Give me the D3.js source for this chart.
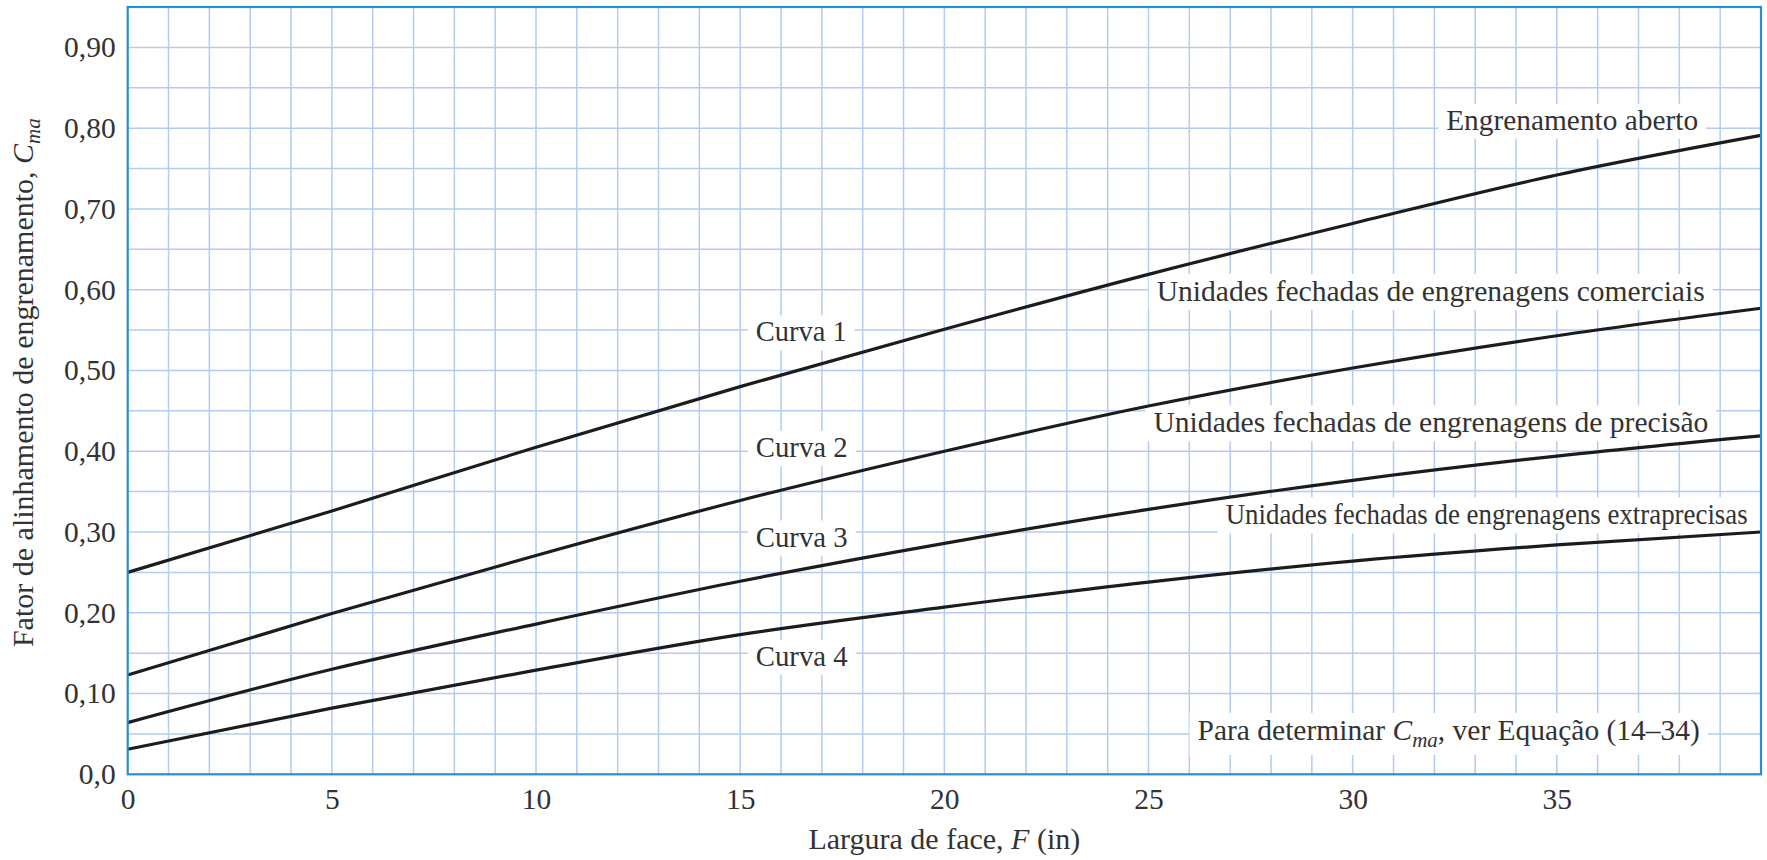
<!DOCTYPE html>
<html>
<head>
<meta charset="utf-8">
<script src="https://cdn.jsdelivr.net/npm/d3@7"></script>
<style>
  html, body { margin: 0; padding: 0; background: #fff; }
  svg { display: block; }
  text { font-family: "Liberation Serif", "Times New Roman", serif; fill: #333; }
</style>
</head>
<body>
<svg id="chart" width="1767" height="860"></svg>
<script>
// ---- data ----
const faceWidth = [0, 5, 10, 15, 20, 25, 30, 35, 40];            // F (in)
const curva1 = [0.250, 0.326, 0.405, 0.480, 0.551, 0.619, 0.682, 0.742, 0.791]; // Engrenamento aberto
const curva2 = [0.123, 0.199, 0.271, 0.339, 0.400, 0.456, 0.503, 0.543, 0.577]; // comerciais
const curva3 = [0.064, 0.130, 0.186, 0.239, 0.286, 0.328, 0.364, 0.394, 0.419]; // precisão
const curva4 = [0.031, 0.082, 0.129, 0.173, 0.207, 0.238, 0.264, 0.284, 0.300]; // extraprecisas
const xTicks = [0, 5, 10, 15, 20, 25, 30, 35];
const yTicks = [0, 0.1, 0.2, 0.3, 0.4, 0.5, 0.6, 0.7, 0.8, 0.9];
const yTickLabels = ["0,0", "0,10", "0,20", "0,30", "0,40", "0,50", "0,60", "0,70", "0,80", "0,90"];
const xTitle = "Largura de face, ";
const yTitle = "Fator de alinhamento de engrenamento, ";

// ---- layout ----
const W = 1767, H = 860;
const margin = { left: 127.7, right: 6, top: 7, bottom: 85.7 };
const svg = d3.select("#chart");

const x = d3.scaleLinear().domain([0, 40]).range([margin.left, W - margin.right]);
const y = d3.scaleLinear().domain([0, 0.95]).range([H - margin.bottom, margin.top]);

// grid
const grid = svg.append("g");
grid.selectAll("line.v").data(d3.range(1, 40, 1)).join("line")
  .attr("x1", d => x(d)).attr("x2", d => x(d))
  .attr("y1", y(0)).attr("y2", y(0.95))
  .attr("stroke", "#b3ccef").attr("stroke-width", 1.5);
grid.selectAll("line.h").data(d3.range(1, 19, 1).map(i => i * 0.05)).join("line")
  .attr("x1", x(0)).attr("x2", x(40))
  .attr("y1", d => y(d)).attr("y2", d => y(d))
  .attr("stroke", "#b3ccef").attr("stroke-width", 1.5);

const rectG = svg.append("g");
const curveG = svg.append("g");
const textG = svg.append("g");

// curves
const series = [curva1, curva2, curva3, curva4];
const line = d3.line().x((d, i) => x(faceWidth[i])).y(d => y(d)).curve(d3.curveMonotoneX);
curveG.selectAll("path").data(series).join("path")
  .attr("d", d => line(d))
  .attr("fill", "none").attr("stroke", "#1c1c1c").attr("stroke-width", 3.2);

// annotations (placed in data units)
const ann = [
  { t: "Engrenamento aberto", u: 32.29, v: 0.798, len: 252, fs: 28.5 },
  { t: "Unidades fechadas de engrenagens comerciais", u: 25.20, v: 0.586, len: 548, fs: 29.5 },
  { t: "Unidades fechadas de engrenagens de precisão", u: 25.12, v: 0.4235, len: 555, fs: 29.5 },
  { t: "Unidades fechadas de engrenagens extraprecisas", u: 26.89, v: 0.3095, len: 522, fs: 29.5 },
  { t: "Curva 1", u: 15.38, v: 0.536, len: 91, fs: 28.5 },
  { t: "Curva 2", u: 15.38, v: 0.3927, len: 92, fs: 28.5 },
  { t: "Curva 3", u: 15.38, v: 0.282, len: 92, fs: 28.5 },
  { t: "Curva 4", u: 15.38, v: 0.1345, len: 92, fs: 28.5 }
];
ann.forEach(a => {
  const tx = textG.append("text")
    .attr("x", x(a.u)).attr("y", y(a.v))
    .attr("font-size", a.fs)
    .attr("textLength", a.len).attr("lengthAdjust", "spacingAndGlyphs")
    .text(a.t);
  const b = tx.node().getBBox();
  rectG.append("rect").attr("fill", "#fff")
    .attr("x", b.x - 8).attr("y", b.y - 1).attr("width", b.width + 16).attr("height", b.height + 4);
});

// "Para determinar C_ma, ver Equação (14–34)"
{
  const tx = textG.append("text").attr("x", x(26.2)).attr("y", y(0.0425)).attr("font-size", 29.5);
  tx.append("tspan").text("Para determinar ");
  tx.append("tspan").attr("font-style", "italic").text("C");
  tx.append("tspan").attr("font-style", "italic").attr("font-size", 21).attr("dy", 7).text("ma");
  tx.append("tspan").attr("dy", -7).text(", ver Equação (14–34)");
  const b = tx.node().getBBox();
  rectG.append("rect").attr("fill", "#fff")
    .attr("x", b.x - 8).attr("y", b.y - 1).attr("width", b.width + 16).attr("height", b.height + 4);
}

// frame
svg.append("rect")
  .attr("x", x(0)).attr("y", y(0.95))
  .attr("width", x(40) - x(0)).attr("height", y(0) - y(0.95))
  .attr("fill", "none").attr("stroke", "#2b8dd4").attr("stroke-width", 2.2);

// axes
const xAxis = svg.append("g").attr("transform", `translate(0,${y(0)})`)
  .call(d3.axisBottom(x).tickValues(xTicks).tickSize(0).tickPadding(14).tickFormat(d3.format("d")));
const yAxis = svg.append("g").attr("transform", `translate(${x(0)},0)`)
  .call(d3.axisLeft(y).tickValues(yTicks).tickSize(0).tickPadding(12)
    .tickFormat((d, i) => yTickLabels[i]));
[xAxis, yAxis].forEach(a => {
  a.select(".domain").remove();
  a.selectAll("text").attr("font-size", 29.5)
    .attr("font-family", '"Liberation Serif", "Times New Roman", serif').attr("fill", "#333");
});

// axis titles
const xt = svg.append("text").attr("x", (x(0) + x(40)) / 2).attr("y", 849)
  .attr("text-anchor", "middle").attr("font-size", 30);
xt.append("tspan").text(xTitle);
xt.append("tspan").attr("font-style", "italic").text("F");
xt.append("tspan").text(" (in)");

const yt = svg.append("text")
  .attr("transform", `translate(33,${(y(0) + y(0.95)) / 2 - 8}) rotate(-90)`)
  .attr("text-anchor", "middle").attr("font-size", 30);
yt.append("tspan").text(yTitle);
yt.append("tspan").attr("font-style", "italic").text("C");
yt.append("tspan").attr("font-style", "italic").attr("font-size", 21).attr("dy", 7).text("ma");
</script>
</body>
</html>
